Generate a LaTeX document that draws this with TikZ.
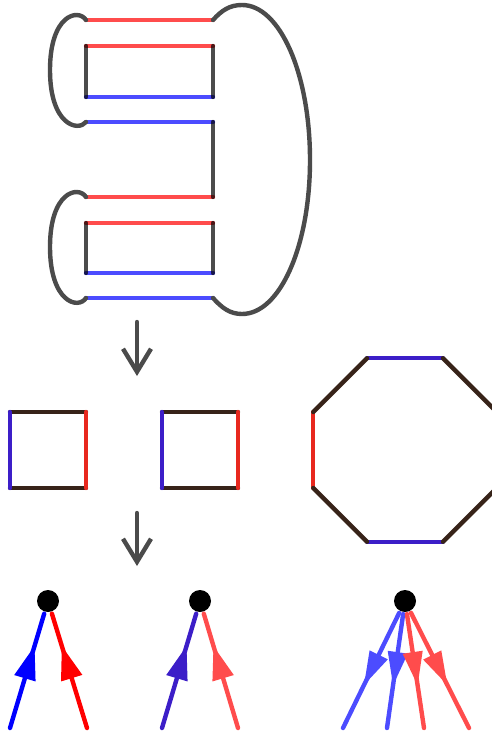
\documentclass[tikz,border=0pt]{standalone}
\usepackage{amssymb}
\usepackage{amsmath}
\usetikzlibrary{positioning,calc,arrows.meta,decorations.markings}

\definecolor{edgebrown}{RGB}{55,35,25}
\definecolor{edgepurple}{RGB}{60,30,200}
\definecolor{edgered}{RGB}{232,40,30}
\definecolor{loopgray}{RGB}{75,75,75}

\begin{document}
\begin{tikzpicture}[%
        x=1pt, y=-1pt,
        line width=4.4pt, line cap=round, line join=round,
        every node/.style={circle, fill=black, minimum size=22pt, inner sep=0pt},
        redseg/.style={draw=red, opacity=0.7},
        blueseg/.style={draw=blue, opacity=0.7},
        joinseg/.style={draw=black, opacity=0.7},
        loopseg/.style={draw=loopgray},
        movearrow/.style={draw=loopgray, -{Straight Barb[length=23pt,width=28pt]}},
        upmark/.style={postaction={decorate}, decoration={markings,
            mark=at position 0.72 with {\arrow{Triangle[length=34pt,width=21pt]}}}},
        downmark/.style={postaction={decorate}, decoration={markings,
            mark=at position 0.63 with {\arrow{Triangle[length=34pt,width=19pt]}}}}
      ]
      \useasboundingbox (0,0) rectangle (492,736);
      \clip (0,0) rectangle (492,736);

      \foreach \n/\y in {1/20,2/46,3/97,4/122,5/197,6/223,7/273,8/298} {
        \coordinate (l\n) at (86,\y);
        \coordinate (r\n) at (213,\y);
      }
      \foreach \n in {1,2,5,6} \draw [redseg] (l\n) -- (r\n);
      \foreach \n in {3,4,7,8} \draw [blueseg] (l\n) -- (r\n);
      \draw [joinseg] (l2) -- (l3) (r2) -- (r3) (r4) -- (r5) (l6) -- (l7) (r6) -- (r7);
      \draw [loopseg] (l1) .. controls (78,8) and (50,15) .. (50,70)
        .. controls (50,125) and (78,132) .. (l4);
      \draw [loopseg] (l5) .. controls (78,185) and (50,192) .. (50,247)
        .. controls (50,302) and (78,310) .. (l8);
      \draw [loopseg] (r1) .. controls (222,10) and (230,5) .. (242,5)
        .. controls (280,5) and (310,74) .. (310,160)
        .. controls (310,246) and (280,314) .. (242,314)
        .. controls (230,314) and (222,308) .. (r8);

      \coordinate (a1) at (137,322);
      \coordinate (b1) at (137,376);
      \coordinate (a2) at (137,513);
      \coordinate (b2) at (137,566);
      \draw [movearrow] (a1) -- (b1);
      \draw [movearrow] (a2) -- (b2);

      \foreach \s/\x in {1/10,2/162} {
        \coordinate (q\s a) at (\x,412);
        \coordinate (q\s b) at (\x+76,412);
        \coordinate (q\s c) at (\x+76,488);
        \coordinate (q\s d) at (\x,488);
        \draw [edgebrown] (q\s a) -- (q\s b) (q\s c) -- (q\s d);
        \draw [edgered] (q\s b) -- (q\s c);
        \draw [edgepurple] (q\s d) -- (q\s a);
      }

      \coordinate (oc) at (405,450);
      \foreach \k in {0,...,7}
        \coordinate (o\k) at ($(oc)+({22.5+45*\k}:99.3)$);
      \draw [edgepurple] (o1) -- (o2) (o5) -- (o6);
      \draw [edgered] (o3) -- (o4);
      \draw [edgebrown] (o0) -- (o1) (o2) -- (o3) (o4) -- (o5) (o6) -- (o7) (o7) -- (o0);

      \node (v1) at (48,601) {};
      \node (v2) at (200,601) {};
      \node (v3) at (405,601) {};
      \coordinate (e1) at (10,728);
      \coordinate (e2) at (87,728);
      \coordinate (e3) at (162,728);
      \coordinate (e4) at (238,728);
      \coordinate (e5) at (343,728);
      \coordinate (e6) at (387,728);
      \coordinate (e7) at (424,728);
      \coordinate (e8) at (469,728);
      \draw [upmark, blue] (e1) -- (v1);
      \draw [upmark, red] (e2) -- (v1);
      \draw [upmark, edgepurple] (e3) -- (v2);
      \draw [upmark, red!70] (e4) -- (v2);
      \draw [downmark, blue!70] (v3) -- (e5);
      \draw [downmark, blue!70] (v3) -- (e6);
      \draw [downmark, red!70] (v3) -- (e7);
      \draw [downmark, red!70] (v3) -- (e8);
    \end{tikzpicture}
\end{document}
